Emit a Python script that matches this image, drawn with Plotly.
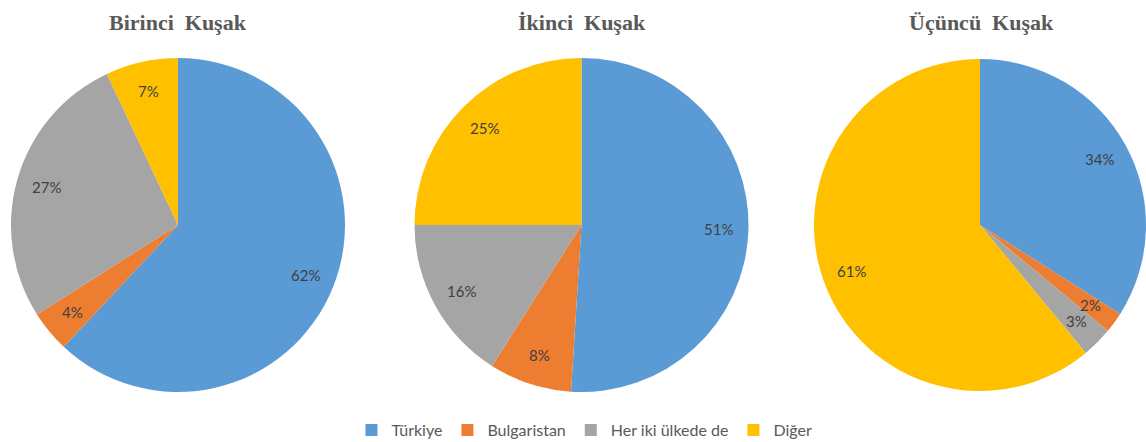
import math
import plotly.graph_objects as go

W, H = 1146, 442

categories = ["Türkiye", "Bulgaristan", "Her iki ülkede de", "Diğer"]
titles = ["Birinci\u00a0 Kuşak", "İkinci\u00a0 Kuşak", "Üçüncü\u00a0 Kuşak"]
birinci = [62, 4, 27, 7]
ikinci = [51, 8, 16, 25]
ucuncu = [34, 2, 3, 61]
series = [birinci, ikinci, ucuncu]

colors = ["#5B9BD5", "#ED7D31", "#A5A5A5", "#FFC000"]

# pie layout in pixels (center x, center y, radius)
centers = [(178, 225), (581.5, 225), (981, 225)]
R = 167

fig = go.Figure()
annotations = []
for i, (vals, (cx, cy)) in enumerate(zip(series, centers)):
    x0 = max(0.0, (cx - R) / W)
    x1 = min(1.0, (cx + R) / W)
    y0 = 1 - (cy + R) / H
    y1 = 1 - (cy - R) / H
    r = min((x1 - x0) * W, (y1 - y0) * H) / 2
    pcx = (x0 + x1) / 2 * W
    pcy = (1 - (y0 + y1) / 2) * H
    fig.add_trace(go.Pie(
        labels=categories, values=vals, sort=False, direction="clockwise",
        rotation=0, textinfo="none", hoverinfo="label+percent",
        marker=dict(colors=colors, line=dict(width=0)),
        domain=dict(x=[x0, x1], y=[y0, y1]),
        showlegend=(i == 0),
    ))
    total = sum(vals)
    cum = 0
    for v in vals:
        mid = (cum + v / 2) / total * 2 * math.pi
        cum += v
        lx = pcx + 0.82 * r * math.sin(mid)
        ly = pcy - 0.82 * r * math.cos(mid)
        annotations.append(dict(
            x=lx / W, y=1 - ly / H, xref="paper", yref="paper",
            text=f"{round(v / total * 100)}%", showarrow=False,
            font=dict(family="Lato, sans-serif", size=15, color="#404040"),
            xanchor="center", yanchor="middle"))
    annotations.append(dict(
        x=cx / W, y=1 - 22 / H, xref="paper", yref="paper",
        text=f"<b>{titles[i]}</b>", showarrow=False,
        font=dict(family="Liberation Serif, Times New Roman, serif", size=22, color="#595959"),
        xanchor="center", yanchor="middle"))

fig.update_layout(
    width=W, height=H,
    margin=dict(l=0, r=0, t=0, b=0, autoexpand=False),
    paper_bgcolor="white", plot_bgcolor="white",
    annotations=annotations,
    legend=dict(orientation="h", x=0.51, xanchor="center",
                yref="container", y=12 / H, yanchor="middle",
                itemwidth=30, tracegroupgap=0,
                font=dict(family="Lato, sans-serif", size=16, color="#595959"),
                itemclick=False, itemdoubleclick=False),
)

fig.write_html("out.html", config={"displayModeBar": False},
               post_script="document.body.style.margin='0';")
